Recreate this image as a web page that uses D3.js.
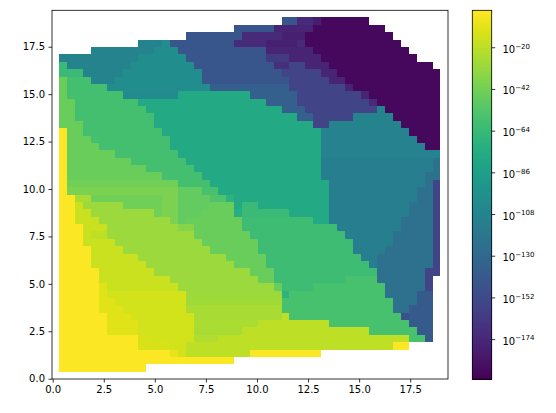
<!DOCTYPE html>
<html>
<head>
<meta charset="utf-8">
<script src="https://cdn.jsdelivr.net/npm/d3@7"></script>
<style>
html, body { margin: 0; padding: 0; background: #fff; }
svg { display: block; }
text { font-family: "DejaVu Sans", sans-serif; fill: #000; }
</style>
</head>
<body>
<svg id="chart" width="556" height="413"></svg>
<script>
// Mesh geometry in data units.
const gridSize = 48;
const meshX0 = 0.31;
const meshY0 = 0.37;
const meshStep = 0.389;

// Axis ticks.
const xTicks = [0, 2.5, 5, 7.5, 10, 12.5, 15, 17.5];
const yTicks = [0, 2.5, 5, 7.5, 10, 12.5, 15, 17.5];
const colorTickExponents = [-20, -42, -64, -86, -108, -130, -152, -174];

// Colour range as base-10 exponents.
const colorDomainExponents = [-195.2, -0.5];

// Mesh values, top row first. Each row holds runs of [firstColumn, lastColumn, log10(value)].
const rowRuns = [
  [[28,29,-143],[30,31,-172],[32,32,-180],[33,38,-191]],
  [[22,26,-143],[27,31,-176],[32,40,-191]],
  [[16,22,-143],[23,27,-172],[28,30,-178],[31,41,-191]],
  [[10,12,-108],[13,13,-100],[14,21,-143],[22,25,-172],[26,29,-178],[30,30,-172],[31,42,-191]],
  [[4,11,-108],[12,14,-100],[15,25,-143],[26,31,-176],[32,43,-191]],
  [[0,9,-108],[10,15,-100],[16,25,-143],[26,28,-162],[29,32,-176],[33,44,-191]],
  [[0,0,-63],[1,8,-108],[9,16,-100],[17,26,-143],[27,28,-168],[29,30,-156],[31,33,-176],[34,46,-191]],
  [[0,2,-63],[3,7,-108],[8,17,-100],[18,27,-143],[28,32,-156],[33,34,-176],[35,47,-191]],
  [[0,0,-45],[1,3,-59],[4,6,-108],[7,17,-100],[18,28,-143],[29,33,-156],[34,35,-176],[36,47,-191]],
  [[0,0,-45],[1,5,-59],[6,18,-100],[19,28,-137],[29,35,-156],[36,36,-176],[37,47,-191]],
  [[0,0,-45],[1,7,-59],[8,14,-102],[15,23,-78],[24,29,-137],[30,37,-156],[38,38,-176],[39,47,-191]],
  [[0,1,-45],[2,9,-59],[10,25,-78],[26,29,-137],[30,38,-156],[39,39,-172],[40,47,-191]],
  [[0,1,-45],[2,10,-59],[11,27,-78],[28,30,-137],[31,39,-156],[40,40,-108],[41,47,-191]],
  [[0,1,-45],[2,11,-59],[12,29,-78],[30,31,-137],[32,36,-156],[37,41,-108],[42,47,-191]],
  [[0,2,-45],[3,11,-59],[12,31,-78],[32,33,-156],[34,42,-108],[43,47,-191]],
  [[0,0,-2],[1,2,-45],[3,12,-59],[13,32,-78],[33,43,-110],[44,47,-191]],
  [[0,0,-2],[1,3,-45],[4,13,-59],[14,32,-78],[33,44,-110],[45,47,-191]],
  [[0,0,-2],[1,4,-45],[5,13,-59],[14,32,-78],[33,45,-110],[46,47,-191]],
  [[0,0,-2],[1,6,-45],[7,14,-59],[15,32,-78],[33,47,-110]],
  [[0,0,-2],[1,8,-45],[9,15,-59],[16,32,-78],[33,46,-113],[47,47,-123]],
  [[0,0,-2],[1,10,-45],[11,16,-59],[17,32,-78],[33,46,-113],[47,47,-123]],
  [[0,0,-2],[1,12,-45],[13,17,-59],[18,32,-78],[33,45,-113],[46,47,-123]],
  [[0,0,-2],[1,14,-43],[15,18,-59],[19,33,-78],[34,45,-113],[46,46,-123],[47,47,-156]],
  [[0,0,-2],[1,14,-39],[15,17,-47],[18,19,-57],[20,33,-78],[34,44,-113],[45,46,-123],[47,47,-156]],
  [[0,1,-2],[2,3,-26],[4,12,-43],[13,14,-39],[15,18,-47],[19,20,-55],[21,21,-69],[22,33,-78],[34,44,-113],[45,46,-123],[47,47,-156]],
  [[0,1,-2],[2,2,-16],[3,7,-30],[8,12,-43],[13,14,-39],[15,18,-47],[19,21,-45],[22,22,-78],[23,24,-63],[25,33,-78],[34,43,-113],[44,46,-123],[47,47,-156]],
  [[0,1,-2],[2,3,-16],[4,11,-30],[12,12,-43],[13,14,-39],[15,17,-47],[18,21,-45],[22,22,-73],[23,28,-63],[29,33,-78],[34,43,-113],[44,46,-123],[47,47,-156]],
  [[0,1,-2],[2,4,-16],[5,13,-30],[14,14,-39],[15,15,-47],[16,22,-45],[23,31,-61],[32,33,-78],[34,42,-113],[43,46,-123],[47,47,-156]],
  [[0,2,-2],[3,5,-16],[6,14,-30],[15,16,-36],[17,22,-45],[23,34,-61],[35,42,-113],[43,46,-123],[47,47,-156]],
  [[0,2,-2],[3,3,-16],[4,5,-20],[6,16,-30],[17,23,-45],[24,35,-61],[36,41,-113],[42,46,-123],[47,47,-156]],
  [[0,2,-2],[3,6,-16],[7,17,-30],[18,24,-45],[25,36,-61],[37,41,-113],[42,46,-123],[47,47,-156]],
  [[0,3,-2],[4,7,-16],[8,18,-30],[19,24,-45],[25,36,-61],[37,40,-113],[41,46,-123],[47,47,-156]],
  [[0,3,-2],[4,9,-16],[10,20,-30],[21,25,-45],[26,37,-61],[38,39,-113],[40,46,-123],[47,47,-156]],
  [[0,3,-2],[4,10,-16],[11,21,-30],[22,25,-45],[26,38,-61],[39,39,-113],[40,46,-123],[47,47,-156]],
  [[0,4,-2],[5,11,-16],[12,23,-30],[24,26,-45],[27,39,-61],[40,45,-123],[46,47,-156]],
  [[0,4,-2],[5,13,-16],[14,24,-30],[25,26,-45],[27,35,-61],[36,39,-57],[40,45,-123],[46,46,-156]],
  [[0,4,-2],[5,5,-10],[6,14,-16],[15,26,-30],[27,27,-45],[28,31,-61],[32,40,-57],[41,45,-123],[46,46,-156]],
  [[0,4,-2],[5,5,-10],[6,15,-14],[16,27,-30],[28,28,-69],[29,40,-57],[41,44,-123],[45,46,-141]],
  [[0,4,-2],[5,6,-10],[7,15,-14],[16,27,-28],[28,41,-57],[42,44,-123],[45,46,-141]],
  [[0,4,-2],[5,7,-10],[8,15,-14],[16,27,-26],[28,41,-57],[42,43,-123],[44,46,-141]],
  [[0,5,-2],[6,8,-10],[9,16,-14],[17,27,-26],[28,28,-20],[29,42,-57],[43,43,-147],[44,46,-141]],
  [[0,5,-2],[6,9,-10],[10,16,-14],[17,24,-25],[25,33,-20],[34,43,-57],[44,46,-141]],
  [[0,5,-2],[6,9,-10],[10,16,-14],[17,22,-26],[23,38,-20],[39,44,-57],[45,46,-141]],
  [[0,9,-2],[10,11,-12],[12,16,-14],[17,19,-24],[20,43,-20],[44,45,-57],[46,46,-141]],
  [[0,9,-2],[10,13,-12],[14,15,-14],[16,41,-20],[42,43,-2]],
  [[0,13,-2],[14,14,-8],[15,15,-14],[16,23,-20],[24,32,-2]],
  [[0,21,-2]],
  [[0,10,-2]]
];

const svg = d3.select("#chart");

// Main plot frame.
const plot = { left: 52, right: 448, top: 10.3, bottom: 379 };
const x = d3.scaleLinear().domain([-0.034, 19.35]).range([plot.left, plot.right]);
const y = d3.scaleLinear().domain([-0.016, 19.42]).range([plot.bottom, plot.top]);

const color = d3.scaleSequentialLog(d3.interpolateViridis)
  .domain(colorDomainExponents.map(e => Math.pow(10, e)));

// Expand the runs into one record per cell.
const cells = rowRuns.flatMap((runs, r) =>
  runs.flatMap(([first, last, exponent]) =>
    d3.range(first, last + 1).map(c => ({ row: gridSize - 1 - r, col: c, value: Math.pow(10, exponent) }))
  )
);

svg.append("g")
  .attr("shape-rendering", "crispEdges")
  .selectAll("rect")
  .data(cells)
  .join("rect")
  .attr("x", d => x(meshX0 + d.col * meshStep))
  .attr("y", d => y(meshY0 + (d.row + 1) * meshStep))
  .attr("width", d => x(meshX0 + (d.col + 1) * meshStep) - x(meshX0 + d.col * meshStep))
  .attr("height", d => y(meshY0 + d.row * meshStep) - y(meshY0 + (d.row + 1) * meshStep))
  .attr("fill", d => color(d.value));

// Axes.
function styleAxis(g) {
  g.selectAll("path").remove();
  g.selectAll("line").attr("stroke", "#000").attr("stroke-width", 0.8);
  g.selectAll("text").attr("font-size", 10).attr("fill", "#000");
}

svg.append("g")
  .attr("transform", `translate(0,${plot.bottom})`)
  .call(d3.axisBottom(x).tickValues(xTicks).tickFormat(d3.format(".1f")).tickSize(3.5).tickPadding(3.5))
  .call(styleAxis);

svg.append("g")
  .attr("transform", `translate(${plot.left},0)`)
  .call(d3.axisLeft(y).tickValues(yTicks).tickFormat(d3.format(".1f")).tickSize(3.5).tickPadding(3.5))
  .call(styleAxis);

svg.append("rect")
  .attr("x", plot.left).attr("y", plot.top)
  .attr("width", plot.right - plot.left).attr("height", plot.bottom - plot.top)
  .attr("fill", "none").attr("stroke", "#000").attr("stroke-width", 0.8);

// Colour bar.
const bar = { left: 472.3, right: 491.7, top: 10.3, bottom: 379.3 };
const barScale = d3.scaleLog()
  .domain(colorDomainExponents.map(e => Math.pow(10, e)))
  .range([bar.bottom, bar.top]);

const barSteps = d3.range(256);
const barHeight = (bar.bottom - bar.top) / 256;
svg.append("g")
  .attr("shape-rendering", "crispEdges")
  .selectAll("rect")
  .data(barSteps)
  .join("rect")
  .attr("x", bar.left)
  .attr("y", i => bar.bottom - (i + 1) * barHeight)
  .attr("width", bar.right - bar.left)
  .attr("height", barHeight + 0.5)
  .attr("fill", i => d3.interpolateViridis((i + 0.5) / 256));

svg.append("rect")
  .attr("x", bar.left).attr("y", bar.top)
  .attr("width", bar.right - bar.left).attr("height", bar.bottom - bar.top)
  .attr("fill", "none").attr("stroke", "#000").attr("stroke-width", 0.8);

const barAxis = svg.append("g")
  .attr("transform", `translate(${bar.right},0)`)
  .call(d3.axisRight(barScale)
    .tickValues(colorTickExponents.map(e => Math.pow(10, e)))
    .tickFormat("").tickSize(3.5))
  .call(styleAxis);

barAxis.selectAll(".tick text").remove();
barAxis.selectAll(".tick").data(colorTickExponents).append("text")
  .attr("x", 10.8)
  .attr("y", 5)
  .attr("font-size", 10)
  .call(t => t.append("tspan").text("10"))
  .call(t => t.append("tspan")
    .attr("dy", -4.2)
    .attr("font-size", 7)
    .text(e => "\u2212" + Math.abs(e)));
</script>
</body>
</html>
